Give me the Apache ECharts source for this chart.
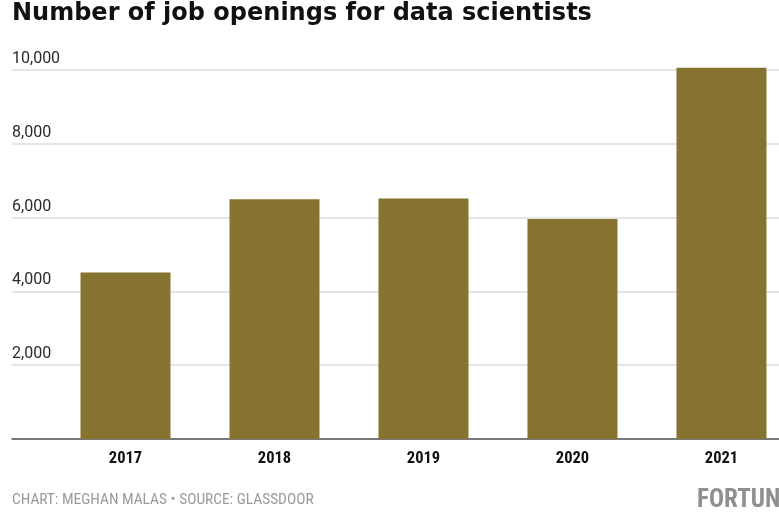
<!DOCTYPE html>
<html>
<head>
<meta charset="utf-8">
<script src="https://cdn.jsdelivr.net/npm/echarts@6/dist/echarts.min.js"></script>
<style>html,body{margin:0;padding:0;background:#fff}#c{width:779px;height:514px}</style>
</head>
<body>
<div id="c"></div>
<script>
const categories = ['2017', '2018', '2019', '2020', '2021'];
const openings = [4510, 6500, 6520, 5960, 10060];
const yTicks = [0, 2000, 4000, 6000, 8000, 10000];

const barData = openings.map((v, i) => [i, v]);

const chart = echarts.init(document.getElementById('c'), null, {renderer: 'canvas'});
chart.setOption({
  animation: false,
  backgroundColor: '#ffffff',
  title: [{
    text: 'Number of job openings for data scientists',
    left: 12, top: 2, padding: 0,
    textStyle: {fontFamily: 'DejaVu Sans', fontWeight: 'bold', fontSize: 24, color: '#111'}
  }],
  graphic: [
    {type: 'text', left: 12, top: 493, style: {text: 'CHART: MEGHAN MALAS \u2022 SOURCE: GLASSDOOR', font: '15.4px "Roboto Condensed", sans-serif', fill: '#9a9a9a'}},
    {type: 'text', left: 697, top: 488, style: {text: 'FORTUNE', font: 'bold 25px "Roboto Condensed", sans-serif', fill: '#8f8f8f'}}
  ],
  grid: [
    {left: 51, right: 0, top: 62.6, bottom: 75, containLabel: false},
    {left: 12, right: 0, top: 62.6, bottom: 75, containLabel: false}
  ],
  xAxis: [
    {type: 'value', gridIndex: 0, min: -0.5, max: 4.366, interval: 0.5,
     splitLine: {show: false}, axisLine: {show: false}, axisTick: {show: false},
     axisLabel: {margin: 11, fontFamily: 'Roboto Condensed', fontWeight: 'bold', fontSize: 16.5, color: '#111',
       formatter: v => Number.isInteger(v) && categories[v] !== undefined ? categories[v] : ''}},
    {type: 'category', gridIndex: 1, data: [''], boundaryGap: false,
     axisLine: {show: true, lineStyle: {color: '#555', width: 1.5}}, axisTick: {show: false}, axisLabel: {show: false}}
  ],
  yAxis: [
    {type: 'value', gridIndex: 0, min: 0, max: 10200, interval: 2000, show: false, splitLine: {show: false}},
    {type: 'value', gridIndex: 1, min: 0, max: 10200, interval: 2000,
     axisLine: {show: false}, axisTick: {show: false},
     splitLine: {showMaxLine: false, lineStyle: {color: '#dcdcdc', width: 1.5}},
     axisLabel: {inside: true, margin: 0, verticalAlign: 'bottom', padding: [0, 0, 3, 0],
       fontFamily: 'Roboto', fontSize: 16, color: '#2a2a2a',
       formatter: v => yTicks.includes(v) && v > 0 ? v.toLocaleString('en-US') : ''}}
  ],
  series: [{
    type: 'bar', xAxisIndex: 0, yAxisIndex: 0, data: barData,
    barWidth: 90, itemStyle: {color: '#85732f'}, z: 3
  }]
});
</script>
</body>
</html>
